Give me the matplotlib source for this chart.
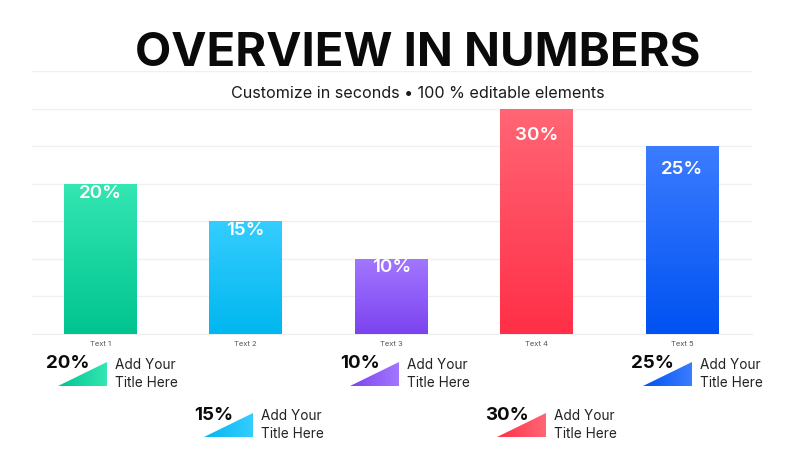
import numpy as np
import matplotlib
matplotlib.use("Agg")
import matplotlib.pyplot as plt
from matplotlib.colors import LinearSegmentedColormap
from matplotlib.patches import Polygon

plt.rcParams['font.family'] = ['Inter', 'DejaVu Sans']

# ---data-------------------------------------------------------------
categories = ["Text 1", "Text 2", "Text 3", "Text 4", "Text 5"]
values = [20, 15, 10, 30, 25]
bar_labels = ["20%", "15%", "10%", "30%", "25%"]
item_titles = ["Add Your\nTitle Here"] * 5

# ---style------------------------------------------------------------
top_colors = ["#34e6b2", "#35cdff", "#a277ff", "#ff6675", "#3c7cff"]
bottom_colors = ["#00c48f", "#00b7ef", "#7c43ef", "#ff2f47", "#0052f2"]
label_offset = [1.3, 1.2, 1.2, 3.6, 3.1]

fig = plt.figure(figsize=(8, 4.5), dpi=100)
fig.patch.set_facecolor("white")

ax = fig.add_axes([0.04, 0.258, 0.9, 0.584])
x = np.arange(len(categories))
bars = ax.bar(x, values, width=0.5, color="none", edgecolor="none", zorder=3)

grad = np.linspace(0, 1, 256).reshape(-1, 1)
for i, b in enumerate(bars):
    cmap = LinearSegmentedColormap.from_list("g%d" % i, [bottom_colors[i], top_colors[i]])
    x0 = b.get_x()
    im = ax.imshow(grad, cmap=cmap, origin="lower", aspect="auto",
                   extent=(x0, x0 + b.get_width(), 0, b.get_height()), zorder=3)
    im.set_clip_path(b)
    ax.text(x[i], values[i] - label_offset[i], bar_labels[i], ha="center", va="center",
            color="white", fontsize=13.5, fontweight="semibold", zorder=4)

ax.set_xlim(-0.47, 4.48)
ax.set_ylim(0, 35)
ax.set_yticks(np.arange(0, 36, 5))
ax.yaxis.grid(True, color="#f0f0f2", linewidth=1, zorder=0)
ax.set_axisbelow(True)
ax.tick_params(axis="y", left=False, labelleft=False)
ax.tick_params(axis="x", length=0, pad=5, labelsize=5.5, labelcolor="#555555")
ax.set_xticks(x)
ax.set_xticklabels(categories)
for s in ["top", "right", "left"]:
    ax.spines[s].set_visible(False)
ax.spines["bottom"].set_color("#eeeeee")

# ---title and legend items, drawn in pixel space----------------------
over = fig.add_axes([0, 0, 1, 1], zorder=5)
over.set_xlim(0, 800)
over.set_ylim(450, 0)
over.axis("off")
over.patch.set_alpha(0)

over.text(418, 54, "OVERVIEW IN NUMBERS", ha="center", va="center",
          fontsize=34, fontweight="bold", color="#0a0a0a")
over.text(418, 93, "Customize in seconds \u2022 100 % editable elements", ha="center",
          va="center", fontsize=11.6, color="#1a1a1a")

tri_grad = np.linspace(0, 1, 256).reshape(1, -1)
for i in range(len(values)):
    left = 58 + 146.2 * i
    top = 362 if i % 2 == 0 else 413
    bottom = top + 24
    cmap = LinearSegmentedColormap.from_list("t%d" % i, [bottom_colors[i], top_colors[i]])
    tri = Polygon([[left, bottom], [left + 49, bottom], [left + 49, top]],
                  closed=True, facecolor="none", edgecolor="none")
    over.add_patch(tri)
    im = over.imshow(tri_grad, cmap=cmap, aspect="auto",
                     extent=(left, left + 49, bottom, top), zorder=2)
    im.set_clip_path(tri)
    over.text(left + 10, top + 2, bar_labels[i], ha="center", va="center",
              fontsize=13.5, fontweight="bold", color="#0a0a0a", zorder=3)
    over.text(left + 57, top + 12, item_titles[i], ha="left", va="center",
              fontsize=9.8, color="#222222", linespacing=1.45, zorder=3)

over.set_xlim(0, 800)
over.set_ylim(450, 0)

fig.savefig("out.png", dpi=100, facecolor="white")
